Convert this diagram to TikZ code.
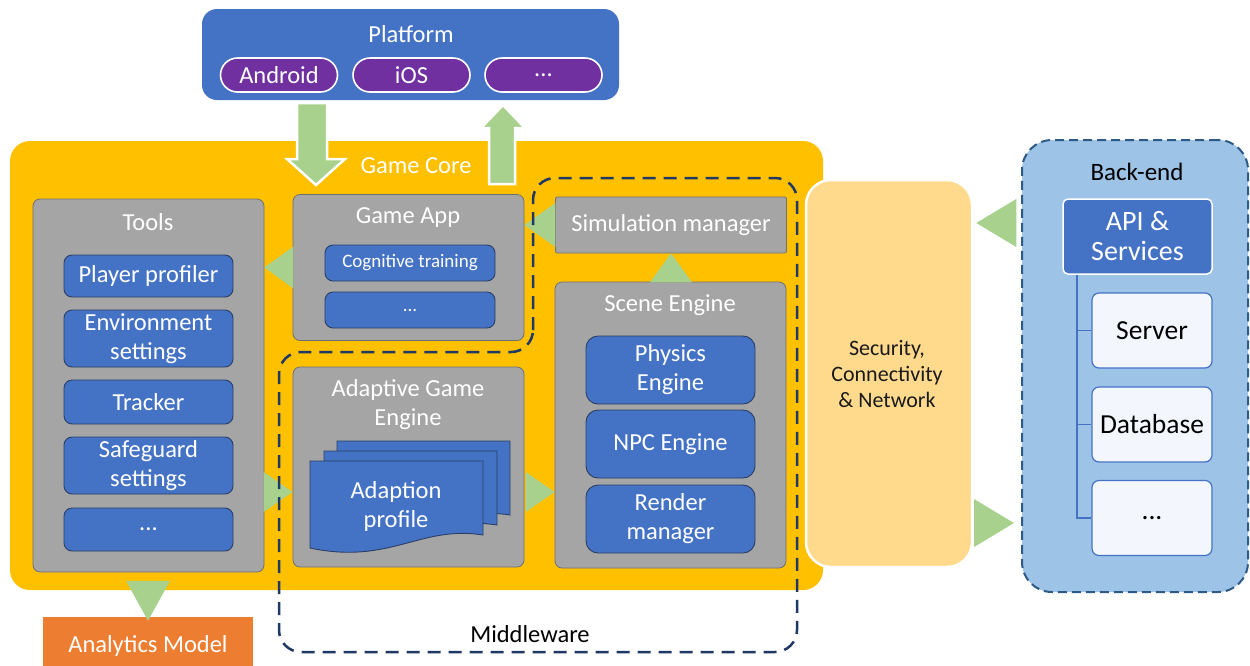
\documentclass[tikz,border=0pt]{standalone}
\usepackage{fontspec}
\setmainfont{Carlito}
\usetikzlibrary{calc}
\definecolor{cblue}{HTML}{4472C4}
\definecolor{cpurple}{HTML}{7030A0}
\definecolor{cyellow}{HTML}{FFC000}
\definecolor{cgray}{HTML}{A5A5A5}
\definecolor{cgraydk}{HTML}{707070}
\definecolor{cgreen}{HTML}{A9D18E}
\definecolor{corange}{HTML}{ED7D31}
\definecolor{csec}{HTML}{FFD98C}
\definecolor{clblue}{HTML}{9DC3E6}
\definecolor{cnavy}{HTML}{1F3864}
\definecolor{cnavytwo}{HTML}{2E5A88}
\definecolor{cdkborder}{HTML}{2B3F66}
\definecolor{cwhitebox}{HTML}{F3F6FC}
\definecolor{ctext}{HTML}{1A1A1A}
\newcommand\fs[2]{\fontsize{#1}{#2}\selectfont}
\begin{document}
\begin{tikzpicture}[x=1pt,y=-1pt,
  box/.style={rectangle, inner sep=0pt, align=center},
  graybox/.style={box, fill=cgray, draw=cgraydk, line width=0.8pt, rounded corners=7pt},
  bluebox/.style={box, fill=cblue, draw=cdkborder, line width=0.9pt, rounded corners=8pt, text=white, font=\fs{24.5}{29}},
  pill/.style={box, fill=cpurple, draw=white, line width=1.6pt, rounded corners=17pt, text=white, font=\fs{24.5}{28}, minimum width=117pt, minimum height=34pt},
  title/.style={text=white, font=\fs{24.5}{29}, inner sep=0pt, align=center},
  wbox/.style={box, fill=cwhitebox, draw=cblue, line width=1.2pt, rounded corners=7pt, text=black, font=\fs{27.5}{30}, minimum width=120pt, minimum height=75pt},
  garrow/.style={fill=cgreen},
  blockarrow/.style={fill=cgreen, draw=white, line width=2.5pt, line join=miter},
  mid/.style={draw=cnavy, line width=2.5pt, dash pattern=on 13pt off 8pt, rounded corners=22pt}
]
\useasboundingbox (0,0) rectangle (1250,665);
\fill[white] (0,0) rectangle (1250,665);

% Platform
\node[box, fill=cblue, rounded corners=15pt, minimum width=417pt, minimum height=91pt] (platform) at (410.5,54.5) {};
\node[title] (platformT) at (411,34) {Platform};
\node[pill] (android) at (279,75) {Android};
\node[pill] (ios) at (411.5,75) {iOS};
\node[pill] (pdots) at (543.5,75) {...};

% Game Core
\node[box, fill=cyellow, rounded corners=20pt, minimum width=813pt, minimum height=449pt] (gamecore) at (416.5,365.5) {};
\node[title] (gamecoreT) at (416,166) {Game Core};

% block arrows platform <-> game core
\draw[blockarrow] (297,103) -- (327,103) -- (327,159) -- (345,159) -- (316,185) -- (287,159) -- (297,159) -- cycle;
\draw[blockarrow] (489,184) -- (515,184) -- (515,128) -- (525,128) -- (503,105) -- (481,128) -- (489,128) -- cycle;

% Tools
\node[graybox, minimum width=231pt, minimum height=373pt] (tools) at (148.5,385.5) {};
\node[title] (toolsT) at (148,222) {Tools};
\node[bluebox, minimum width=169pt, minimum height=42pt] (pp) at (148.5,276) {Player profiler};
\node[bluebox, minimum width=169pt, minimum height=57pt] (env) at (148.5,338.5) {Environment\\settings};
\node[bluebox, minimum width=169pt, minimum height=44pt] (tracker) at (148.5,402) {Tracker};
\node[bluebox, minimum width=169pt, minimum height=57pt] (safe) at (148.5,465.5) {Safeguard\\settings};
\node[bluebox, minimum width=169pt, minimum height=43pt] (tdots) at (148.5,529.5) {...};

% Game App
\node[graybox, minimum width=231pt, minimum height=146pt] (gameapp) at (408.5,267.5) {};
\node[title] (gameappT) at (408,218) {Game App};
\node[bluebox, font=\fs{19}{22}, minimum width=170pt, minimum height=36pt] (cog) at (410,263) {Cognitive training};
\node[bluebox, font=\fs{19}{22}, minimum width=170pt, minimum height=36pt] (gdots) at (410,310) {...};

% Simulation manager
\node[graybox, rounded corners=2pt, minimum width=231pt, minimum height=56pt, text=white, font=\fs{24.5}{29}] (sim) at (671,225) {Simulation manager};

% Scene engine
\node[graybox, minimum width=231pt, minimum height=286pt] (scene) at (670.5,425) {};
\node[title] (sceneT) at (670,305) {Scene Engine};
\node[bluebox, rounded corners=12pt, minimum width=169pt, minimum height=68pt] (phys) at (670.5,370) {Physics\\Engine};
\node[bluebox, rounded corners=12pt, minimum width=169pt, minimum height=68pt] (npc) at (670.5,444) {NPC Engine};
\node[bluebox, rounded corners=12pt, minimum width=169pt, minimum height=68pt] (render) at (670.5,519) {Render\\manager};

% Adaptive game engine
\node[graybox, minimum width=231pt, minimum height=200pt] (adaptive) at (408.5,467) {};
\node[title] (adaptiveT) at (408,405) {Adaptive Game\\Engine};
\foreach \dx/\dy in {27/-20, 14/-10, 0/0} {
  \draw[fill=cblue, draw=cdkborder, line width=0.9pt, shift={(\dx,\dy)}]
    (310,461) -- (483,461) -- (483,535) .. controls (420,525) and (390,565) .. (310,548) -- cycle;
}
\node[title] (profileT) at (396,506) {Adaption\\profile};

% Analytics model
\node[box, fill=corange, minimum width=210pt, minimum height=58pt, text=white, font=\fs{24.5}{29}] (analytics) at (148,646) {Analytics Model};

% green connector triangles
\coordinate (lowmid) at (0,492);
\fill[garrow] (tools.east |- gameapp.west) -- ++(29,21) -- ++(0,-42) -- cycle;
\fill[garrow] (gameapp.east |- sim.west) -- ++(31,22) -- ++(0,-44) -- cycle;
\fill[garrow] (sim.south) -- ++(21,29) -- ++(-42,0) -- cycle;
\fill[garrow] (adaptive.west |- lowmid) -- ++(-29,20) -- ++(0,-40) -- cycle;
\fill[garrow] (scene.west |- lowmid) -- ++(-29,20) -- ++(0,-40) -- cycle;
\fill[garrow] ($(analytics.north)+(0,4)$) -- ++(22,-40) -- ++(-44,0) -- cycle;

% Middleware outline
\draw[mid] (533,352) -- (533,178) -- (797,178) -- (797,652) -- (279,652) -- (279,352) -- cycle;
\node[font=\fs{24.5}{29}, text=black, inner sep=0pt] (midT) at (530,634) {Middleware};

% Security
\node[box, fill=csec, draw=white, line width=2.5pt, rounded corners=25pt, minimum width=166pt, minimum height=387pt] (security) at (889,373.5) {};
\node[font=\fs{22}{26}, text=ctext, align=center, inner sep=0pt] (securityT) at (887,374) {Security,\\Connectivity\\\& Network};

% Back-end
\node[box, fill=clblue, draw=cnavytwo, line width=2pt, dash pattern=on 9pt off 5pt, rounded corners=30pt, minimum width=226pt, minimum height=452pt] (backend) at (1135,366) {};
\node[font=\fs{25}{29}, text=black, inner sep=0pt] (backendT) at (1137,172) {Back-end};
\node[box, fill=cblue, draw=white, line width=1.5pt, rounded corners=5pt, minimum width=149pt, minimum height=75pt, text=white, font=\fs{28}{30}] (api) at (1137.5,236.5) {API \&\\Services};
\node[wbox] (server) at (1152,330.5) {Server};
\node[wbox] (database) at (1152,424.5) {Database};
\node[wbox] (bdots) at (1152,518) {...};
\coordinate (trunk) at (1077,0);
\draw[cblue, line width=1.5pt] (trunk |- api.south) -- (trunk |- bdots.west) -- (bdots.west);
\draw[cblue, line width=1.5pt] (trunk |- server.west) -- (server.west);
\draw[cblue, line width=1.5pt] (trunk |- database.west) -- (database.west);

% triangles between security and back-end
\coordinate (upc) at (0,223);
\coordinate (loc) at (0,523);
\fill[garrow] ($(security.east |- upc)+(3,0)$) -- ++(40,24) -- ++(0,-48) -- cycle;
\fill[garrow] ($(backend.west |- loc)+(-7,0)$) -- ++(-40,24) -- ++(0,-48) -- cycle;
\end{tikzpicture}
\end{document}
